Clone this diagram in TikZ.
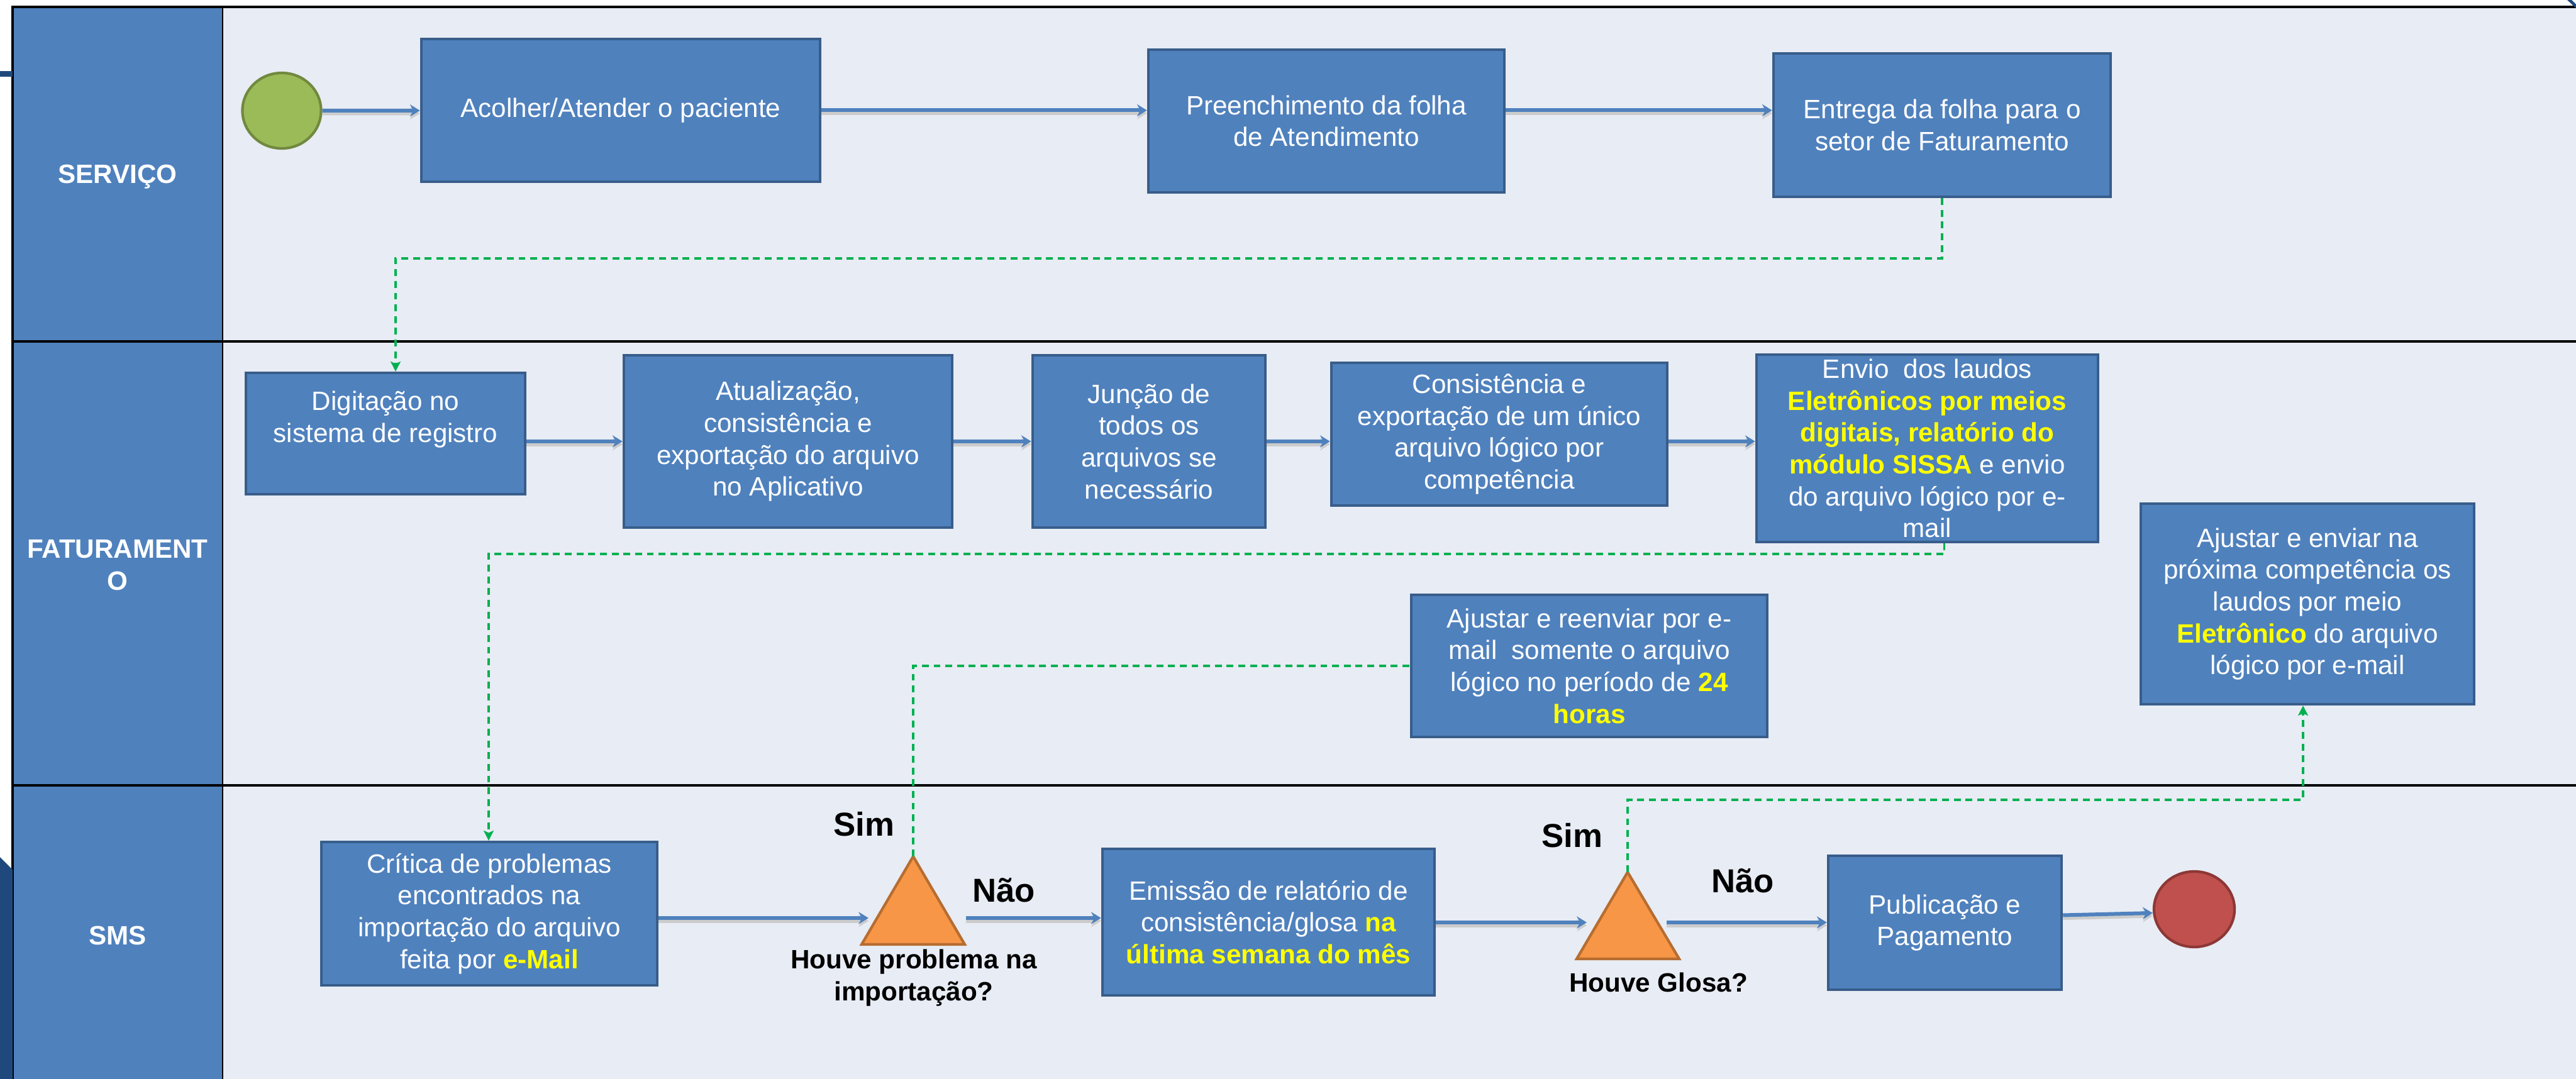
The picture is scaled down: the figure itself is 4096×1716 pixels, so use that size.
\documentclass[tikz,border=0pt]{standalone}
\usepackage{fontspec}
\setmainfont{Liberation Sans}
\usepackage{xcolor}
\usetikzlibrary{shapes.geometric,arrows.meta,positioning,calc}

\definecolor{lanebg}{HTML}{E8ECF4}
\definecolor{headblue}{HTML}{4F81BD}
\definecolor{boxblue}{HTML}{4F81BD}
\definecolor{boxedge}{HTML}{385D8A}
\definecolor{linkgreen}{HTML}{00B050}
\definecolor{decfill}{HTML}{F79646}
\definecolor{decedge}{HTML}{B66D31}
\definecolor{startfill}{HTML}{9BBB59}
\definecolor{startedge}{HTML}{71893F}
\definecolor{endfill}{HTML}{C0504D}
\definecolor{endedge}{HTML}{8C3836}
\definecolor{navy}{HTML}{1F497D}
\definecolor{realce}{HTML}{FFFF00}

\newcommand{\destaque}[1]{\textbf{\textcolor{realce}{#1}}}

\tikzset{
  etapa/.style={draw=boxedge, fill=boxblue, line width=1.2pt, text=white, align=center,
    font=\fontsize{12}{14.4}\selectfont, inner sep=0pt},
  raia/.style={text=white, align=center, font=\fontsize{12}{14.4}\selectfont\bfseries},
  rotulo/.style={align=center, font=\fontsize{12}{14.4}\selectfont\bfseries},
  resposta/.style={font=\fontsize{15}{18}\selectfont\bfseries},
  fluxo/.style={draw=boxblue, line width=1.7pt, -{Stealth[length=4.5pt,width=5.5pt,inset=1.5pt]},
    preaction={draw=black!20, line width=1.7pt, transform canvas={yshift=-1.3pt}}},
  elo/.style={draw=linkgreen, line width=0.9pt, dash pattern=on 3.1pt off 2.2pt,
    -{Stealth[length=4.5pt,width=4.5pt,inset=1pt]}},
  decisao/.style={fill=decfill, draw=decedge, line width=1.2pt},
}

\begin{document}
\begin{tikzpicture}[x=0.01cm, y=-0.01cm]
    \useasboundingbox (0,0) rectangle (4096,1716);

    % raias
    \fill [lanebg] (354,11) rectangle (4096,1716);
    \fill [headblue] (20,11) rectangle (354,1716);
    \draw [line width=1pt] (20,1716) -- (20,11) -- (4096,11);
    \draw [line width=1pt] (20,543) -- (4096,543);
    \draw [line width=1pt] (20,1249) -- (4096,1249);
    \draw [line width=0.8pt] (354,11) -- (354,1716);
    \fill [navy] (0,113) rectangle (20,122);
    \fill [navy] (0,1363) -- (20,1383) -- (20,1716) -- (0,1716) -- cycle;
    \fill [navy] (4082,0) -- (4089,0) -- (4096,7) -- (4096,13) -- cycle;

    \node [raia] (servico) at (187,281) {SERVIÇO};
    \node [raia] (faturamento) at (187,899) {FATURAMENT\\O};
    \node [raia] (sms) at (187,1488) {SMS};

    % inicio e fim
    \node [ellipse, fill=startfill, draw=startedge, line width=1.2pt, minimum width=1.25cm,
        minimum height=1.2cm, inner sep=0pt] (inicio) at (448,176) {};
    \node [ellipse, fill=endfill, draw=endedge, line width=1.2pt, minimum width=1.28cm,
        minimum height=1.2cm, inner sep=0pt] (fim) at (3489,1446) {};

    % SERVIÇO
    \node [etapa, minimum width=6.34cm, minimum height=2.27cm] (acol) at (987,175.5) {Acolher/Atender o paciente};
    \node [etapa, minimum width=5.66cm, minimum height=2.27cm] (pre) at (2109,192.5) {Preenchimento da folha\\de Atendimento};
    \node [etapa, minimum width=5.36cm, minimum height=2.28cm] (ent) at (3088,199) {Entrega da folha para o\\setor de Faturamento};

    % FATURAMENTO
    \node [etapa, minimum width=4.44cm, minimum height=1.93cm] (dig) at (613,689.5) {};
    \node [text=white, align=center, font=\fontsize{12}{14.4}\selectfont] (digtxt) at (613,667) {Digitação no\\sistema de registro};
    \node [etapa, minimum width=5.22cm, minimum height=2.74cm] (atu) at (1253,702) {Atualização,\\consistência e\\exportação do arquivo\\no Aplicativo};
    \node [etapa, minimum width=3.7cm, minimum height=2.74cm] (jun) at (1827,702) {Junção de\\todos os\\arquivos se\\necessário};
    \node [etapa, minimum width=5.34cm, minimum height=2.27cm] (con) at (2384,690.5) {Consistência e\\exportação de um único\\arquivo lógico por\\competência};
    \node [etapa, minimum width=5.43cm, minimum height=2.98cm] (env) at (3064.5,713) {Envio\ \ dos laudos\\\destaque{Eletrônicos por meios}\\\destaque{digitais, relatório do}\\\destaque{módulo SISSA} e envio\\do arquivo lógico por e-\\mail};
    \node [etapa, minimum width=5.66cm, minimum height=2.26cm] (ree) at (2527,1059) {Ajustar e reenviar por e-\\mail\ \ somente o arquivo\\lógico no período de \destaque{24}\\\destaque{horas}};
    \node [etapa, minimum width=5.3cm, minimum height=3.19cm] (prox) at (3669,960.5) {Ajustar e enviar na\\próxima competência os\\laudos por meio\\\destaque{Eletrônico} do arquivo\\lógico por e-mail};

    % SMS
    \node [etapa, minimum width=5.34cm, minimum height=2.28cm] (cri) at (778,1453) {Crítica de problemas\\encontrados na\\importação do arquivo\\feita por \destaque{e-Mail}};
    \node [etapa, minimum width=5.28cm, minimum height=2.33cm] (emi) at (2017,1466.5) {Emissão de relatório de\\consistência/glosa \destaque{na}\\\destaque{última semana do mês}};
    \node [etapa, minimum width=3.71cm, minimum height=2.13cm] (pub) at (3092.5,1467.5) {Publicação e\\Pagamento};

    \draw [decisao] (1370,1502) -- (1452,1362) coordinate (t1) -- (1534,1502) -- cycle;
    \draw [decisao] (2507,1525) -- (2588,1387) coordinate (t2) -- (2670,1525) -- cycle;

    \node [resposta] (sim1) at (1374,1311) {Sim};
    \node [resposta] (nao1) at (1596,1416) {Não};
    \node [rotulo] (q1) at (1453,1555) {Houve problema na\\importação?};
    \node [resposta] (sim2) at (2500,1329) {Sim};
    \node [resposta] (nao2) at (2771,1401) {Não};
    \node [rotulo] (q2) at (2637,1562) {Houve Glosa?};

    \coordinate (t1in) at (1381,1460);
    \coordinate (t1out) at (1536,1460);
    \coordinate (t2in) at (2523,1467);
    \coordinate (t2out) at (2650,1467);
    \coordinate (dobra1) at (629,411);
    \coordinate (dobra2) at (777,881);
    \coordinate (dobra3) at (3662,1272);

    % fluxo principal
    \draw [fluxo] (inicio) -- (acol);
    \draw [fluxo] (acol.east) -- (acol.east -| pre.west);
    \draw [fluxo] (pre.east |- acol.east) -- (acol.east -| ent.west);
    \draw [fluxo] (dig.east |- atu.west) -- (atu.west);
    \draw [fluxo] (atu) -- (jun);
    \draw [fluxo] (jun.east) -- (jun.east -| con.west);
    \draw [fluxo] (con.east |- jun.east) -- (jun.east -| env.west);
    \draw [fluxo] (cri.east |- t1in) -- (t1in);
    \draw [fluxo] (t1out) -- (t1out -| emi.west);
    \draw [fluxo] (emi.east |- t2in) -- (t2in);
    \draw [fluxo] (t2out) -- (t2out -| pub.west);
    \draw [fluxo] ([yshift=0.12cm]pub.east) -- ([yshift=-0.06cm]fim.west);

    % ligações entre raias
    \draw [elo] (ent.south) |- (dobra1) -- (dobra1 |- dig.north);
    \draw [elo] ([xshift=0.27cm]env.south) |- (dobra2) -- (dobra2 |- cri.north);
    \draw [elo, -] (t1) |- (ree.west);
    \draw [elo] (t2) |- (dobra3) -- (dobra3 |- prox.south);
\end{tikzpicture}
\end{document}
